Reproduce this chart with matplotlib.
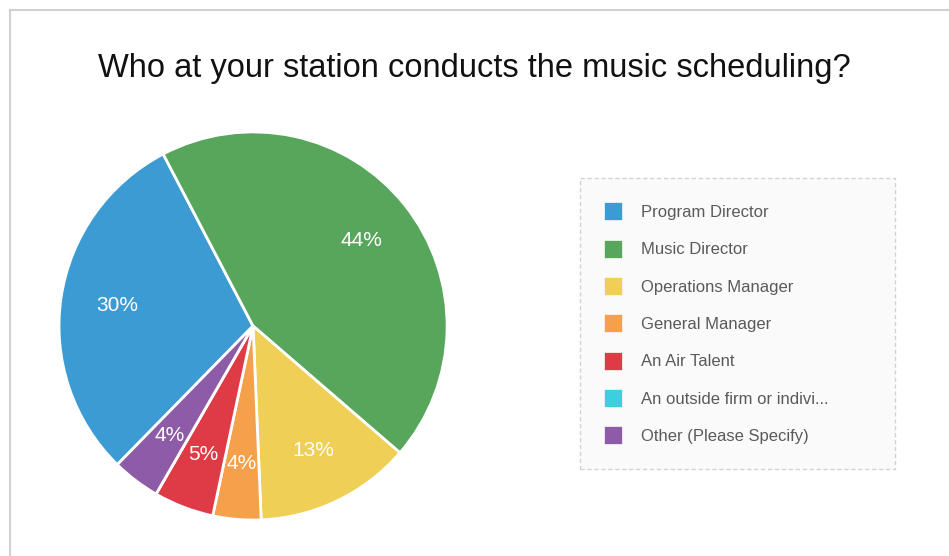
import matplotlib.pyplot as plt
from matplotlib.lines import Line2D

# datos del grafico
categorias = ['Program Director', 'Music Director', 'Operations Manager',
              'General Manager', 'An Air Talent', 'An outside firm or indivi...',
              'Other (Please Specify)']
porcentajes = [30, 44, 13, 4, 5, 0, 4]
colores = ['#3d9bd3', '#57a65c', '#efcf55', '#f5a04a', '#df3b47', '#3bd0df', '#8d5ba7']

plt.rcParams['font.family'] = ['Liberation Sans', 'DejaVu Sans']

fig = plt.figure(figsize=(9.49, 5.56), dpi=100)
ax = fig.add_axes([0.0601, 0.0612, 0.4131, 0.7050])

def etiqueta(p):
    return '%d%%' % round(p) if p >= 1 else ''

wedges, textos, autotextos = ax.pie(
    porcentajes, colors=colores, startangle=225.6, counterclock=False,
    autopct=etiqueta, pctdistance=0.71,
    wedgeprops=dict(edgecolor='white', linewidth=2))
for t in autotextos:
    t.set_color('white')
    t.set_fontsize(15)
ax.set_xlim(-1.01, 1.01)
ax.set_ylim(-1.01, 1.01)
ax.set_aspect('equal')

fig.text(0.5, 0.877, 'Who at your station conducts the music scheduling?',
         ha='center', va='center', fontsize=23.5, color='#111111')

leg = fig.legend(wedges, categorias, loc='upper left',
                 bbox_to_anchor=(580 / 949, 1 - 178 / 556, 315 / 949, 0.0),
                 mode='expand', fontsize=12, labelcolor='#5a5a5a',
                 handlelength=1.05, handleheight=1.3, handletextpad=1.15,
                 labelspacing=1.15, borderpad=1.45, borderaxespad=0,
                 frameon=True, fancybox=False)
frame = leg.get_frame()
frame.set_facecolor('#f9f9f9')
frame.set_edgecolor('#c8c8c8')
frame.set_linestyle((0, (3, 2)))
frame.set_linewidth(1)
for h in leg.legend_handles:
    h.set_edgecolor('#f9f9f9')
    h.set_linewidth(0.5)

# marco de la captura
fig.add_artist(Line2D([10 / 949, 1], [1 - 10 / 556, 1 - 10 / 556],
                      transform=fig.transFigure, color='#d0d0d0', lw=1.5))
fig.add_artist(Line2D([10 / 949, 10 / 949], [0, 1 - 10 / 556],
                      transform=fig.transFigure, color='#d0d0d0', lw=1.5))

fig.savefig('out.png', dpi=100)
